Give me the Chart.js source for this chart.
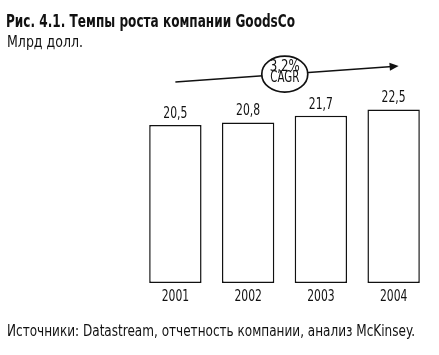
<!DOCTYPE html>
<html>
<head>
<meta charset="utf-8">
<script src="https://cdn.jsdelivr.net/npm/chart.js@4/dist/chart.umd.min.js"></script>
<style>
  html, body { margin: 0; padding: 0; background: #fff; }
  #wrap { position: relative; width: 439px; height: 355px; }
</style>
</head>
<body>
<div id="wrap"><canvas id="c" width="439" height="355"></canvas></div>
<script>
const titleText = 'Рис. 4.1. Темпы роста компании GoodsCo';
const unitText = 'Млрд долл.';
const sourceText = 'Источники: Datastream, отчетность компании, анализ McKinsey.';
const years = ['2001', '2002', '2003', '2004'];
const revenue = [20.5, 20.8, 21.7, 22.5];
const cagrLabel = 'CAGR';

const FONT = "'DejaVu Sans Condensed', 'Liberation Sans Narrow', sans-serif";
const fmt = v => v.toFixed(1).replace('.', ',');

function drawText(ctx, text, x, y, align, font, opts) {
  ctx.save();
  ctx.font = font;
  const w = ctx.measureText(text).width;
  let sx = opts.scale || 1;
  if (opts.width) sx = opts.width / w;
  ctx.translate(x, y);
  ctx.scale(sx, 1);
  ctx.textAlign = align;
  ctx.textBaseline = 'middle';
  ctx.fillText(text, 0, 0);
  ctx.restore();
}

const overlay = {
  id: 'overlay',
  afterDatasetsDraw(chart) {
    const ctx = chart.ctx;
    const meta = chart.getDatasetMeta(0);
    const area = chart.chartArea;
    ctx.save();
    ctx.fillStyle = '#111';
    // value labels and year labels
    meta.data.forEach((bar, i) => {
      drawText(ctx, fmt(revenue[i]), bar.x, bar.y - 11, 'center', '15px ' + FONT, { scale: 0.8 });
      drawText(ctx, years[i], bar.x, area.bottom + 14, 'center', '15px ' + FONT, { scale: 0.8 });
    });
    // title + unit + source
    drawText(ctx, titleText, 6, 22, 'left', 'bold 18px ' + FONT, { width: 289 });
    drawText(ctx, unitText, 7, 43, 'left', '15px ' + FONT, { width: 76 });
    drawText(ctx, sourceText, 7, 332, 'left', '15px ' + FONT, { width: 408 });
    // arrow
    const x0 = meta.data[0].x, x1 = meta.data[meta.data.length - 1].x + 5;
    const y0 = area.top - 0.5, y1 = area.top - 16.5;
    ctx.strokeStyle = '#111';
    ctx.lineWidth = 1.6;
    ctx.beginPath();
    ctx.moveTo(x0, y0);
    ctx.lineTo(x1 - 6, y1 + (y0 - y1) * 6 / (x1 - x0));
    ctx.stroke();
    const ang = Math.atan2(y1 - y0, x1 - x0);
    ctx.beginPath();
    ctx.moveTo(x1, y1);
    ctx.lineTo(x1 - 9 * Math.cos(ang) + 4 * Math.sin(ang), y1 - 9 * Math.sin(ang) - 4 * Math.cos(ang));
    ctx.lineTo(x1 - 9 * Math.cos(ang) - 4 * Math.sin(ang), y1 - 9 * Math.sin(ang) + 4 * Math.cos(ang));
    ctx.closePath();
    ctx.fill();
    // CAGR circle
    const t = 0.49;
    const cx = x0 + (x1 - x0) * t, cy = y0 + (y1 - y0) * t;
    ctx.fillStyle = '#fff';
    ctx.lineWidth = 1.7;
    ctx.beginPath();
    ctx.ellipse(cx, cy, 23, 18, 0, 0, Math.PI * 2);
    ctx.fill();
    ctx.stroke();
    const n = revenue.length - 1;
    const cagr = (Math.pow(revenue[n] / revenue[0], 1 / n) - 1) * 100;
    ctx.fillStyle = '#111';
    drawText(ctx, fmt(cagr) + '%', cx, cy - 7, 'center', '15px ' + FONT, { width: 30 });
    drawText(ctx, cagrLabel, cx, cy + 4, 'center', '15px ' + FONT, { width: 29 });
    ctx.restore();
  }
};

new Chart(document.getElementById('c'), {
  type: 'bar',
  data: {
    labels: years,
    datasets: [{
      data: revenue,
      backgroundColor: '#ffffff',
      borderColor: '#111111',
      borderWidth: 1.5,
      borderSkipped: false,
      barPercentage: 0.72,
      categoryPercentage: 1.0
    }]
  },
  options: {
    responsive: false,
    animation: false,
    devicePixelRatio: 1,
    layout: { padding: { left: 139, right: 9, top: 82.5, bottom: 72 } },
    plugins: { legend: { display: false }, title: { display: false }, tooltip: { enabled: false } },
    scales: {
      x: { display: false },
      y: { display: false, min: 0, max: 26 }
    }
  },
  plugins: [overlay]
});
</script>
</body>
</html>
